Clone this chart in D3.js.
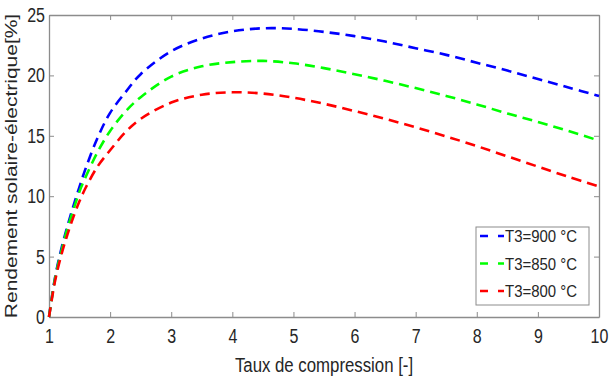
<!DOCTYPE html>
<html>
<head>
<meta charset="utf-8">
<script src="https://cdn.jsdelivr.net/npm/d3@7"></script>
<style>
  body { margin: 0; background: #fff; }
  svg text { font-family: "Liberation Sans", Arial, sans-serif; fill: #262626; }
</style>
</head>
<body>
<svg></svg>
<script>
const width = 609;
const height = 379;
const margin = { top: 15, right: 10, bottom: 62, left: 49 };
const squeeze = 0.8; // the original lettering is narrow

// compression ratio values
const ratios = [1, 1.1, 1.2, 1.3, 1.4, 1.5, 1.6, 1.8, 2, 2.25, 2.5, 3, 3.5, 4, 4.5, 5, 5.5, 6, 6.5, 7, 7.5, 8, 8.5, 9, 9.5, 10];
const eff900 = [0, 3.3, 5.6, 7.5, 9.2, 10.8, 12.3, 14.9, 16.9, 18.6, 20.1, 22.0, 23.05, 23.65, 23.9, 23.85, 23.6, 23.25, 22.8, 22.25, 21.7, 21.05, 20.4, 19.7, 19.0, 18.3];
const eff850 = [0, 3.2, 5.4, 7.3, 8.9, 10.4, 11.6, 13.7, 15.4, 17.0, 18.2, 19.9, 20.75, 21.1, 21.2, 21.0, 20.6, 20.1, 19.55, 18.95, 18.3, 17.6, 16.85, 16.15, 15.4, 14.6];
const eff800 = [0, 3.0, 5.1, 6.8, 8.3, 9.6, 10.7, 12.5, 13.8, 15.3, 16.4, 17.75, 18.4, 18.6, 18.5, 18.15, 17.65, 17.05, 16.4, 15.7, 14.95, 14.15, 13.3, 12.45, 11.6, 10.8];
const seriesNames = ["T3=900 °C", "T3=850 °C", "T3=800 °C"];
const seriesColors = ["#0000ff", "#00ff00", "#ff0000"];
const xTicks = [1, 2, 3, 4, 5, 6, 7, 8, 9, 10];
const yTicks = [0, 5, 10, 15, 20, 25];

const svg = d3.select("svg").attr("width", width).attr("height", height);

const x = d3.scaleLinear().domain([1, 10]).range([margin.left, width - margin.right]);
const y = d3.scaleLinear().domain([0, 25]).range([height - margin.bottom, margin.top]);

const axisColor = "#8c8c8c";

// box with inward ticks on all four sides
const drawAxis = (axis, tx, ty, labels) => {
  const g = svg.append("g").attr("transform", `translate(${tx},${ty})`).call(axis);
  g.select(".domain").attr("stroke", axisColor).attr("stroke-width", 1.3);
  g.selectAll(".tick line").attr("stroke", axisColor);
  if (!labels) g.selectAll(".tick text").remove();
  return g;
};

const xb = drawAxis(d3.axisBottom(x).tickValues(xTicks).tickSizeInner(-5).tickSizeOuter(0).tickPadding(12), 0, y(0), true);
xb.selectAll(".tick text").attr("font-size", 20).attr("transform", `scale(${squeeze},1)`);
drawAxis(d3.axisTop(x).tickValues(xTicks).tickSizeInner(-5).tickSizeOuter(0), 0, y(25), false);
const yl = drawAxis(d3.axisLeft(y).tickValues(yTicks).tickSizeInner(-5).tickSizeOuter(0).tickPadding(5), x(1), 0, true);
yl.selectAll(".tick text").attr("font-size", 20).attr("transform", `scale(${squeeze},1)`);
drawAxis(d3.axisRight(y).tickValues(yTicks).tickSizeInner(-5).tickSizeOuter(0), x(10), 0, false);

// curves
const allSeries = [eff900, eff850, eff800];
const line = d3.line()
  .x((d, i) => x(ratios[i]))
  .y((d) => y(d))
  .curve(d3.curveCatmullRom.alpha(0.5));

allSeries.forEach((vals, k) => {
  svg.append("path")
    .datum(vals)
    .attr("d", line)
    .attr("fill", "none")
    .attr("stroke", seriesColors[k])
    .attr("stroke-width", 2.6)
    .attr("stroke-dasharray", "10,6");
});

// axis titles
svg.append("text")
  .attr("transform", `translate(${(x(1) + x(10)) / 2},372) scale(${squeeze},1)`)
  .attr("text-anchor", "middle")
  .attr("font-size", 21)
  .text("Taux de compression [-]");

svg.append("text")
  .attr("transform", `translate(17,${(y(0) + y(25)) / 2}) scale(${squeeze},1) rotate(-90)`)
  .attr("text-anchor", "middle")
  .attr("font-size", 21)
  .text("Rendement solaire-électrique[%]");

// legend
const lg = svg.append("g");
lg.append("rect")
  .attr("x", 476).attr("y", 227).attr("width", 113).attr("height", 78)
  .attr("fill", "#fff").attr("stroke", "#8c8c8c").attr("stroke-width", 1);

seriesNames.forEach((name, k) => {
  const yy = 236 + k * 27.5;
  lg.append("line")
    .attr("x1", 480).attr("x2", 504).attr("y1", yy).attr("y2", yy)
    .attr("stroke", seriesColors[k]).attr("stroke-width", 2.6)
    .attr("stroke-dasharray", "8,10");
  lg.append("text")
    .attr("transform", `translate(505,${yy + 6}) scale(0.88,1)`)
    .attr("font-size", 17)
    .text(name);
});
</script>
</body>
</html>
